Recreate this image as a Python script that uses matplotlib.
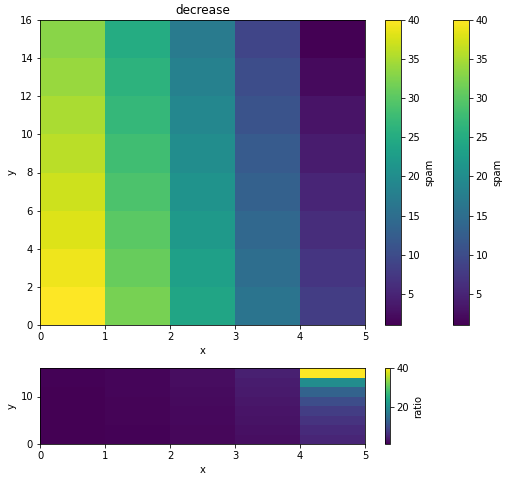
import numpy as np
import matplotlib
matplotlib.use("Agg")
import matplotlib.pyplot as plt

# x edges, y edges
x_edges = [0, 1, 2, 3, 4, 5]
y_edges = [0, 2, 4, 6, 8, 10, 12, 14, 16]

# spam values per column (bottom to top)
col0 = [40, 39, 38, 37, 36, 35, 34, 33]
col1 = [32, 31, 30, 29, 28, 27, 26, 25]
col2 = [24, 23, 22, 21, 20, 19, 18, 17]
col3 = [16, 15, 14, 13, 12, 11, 10, 9]
col4 = [8, 7, 6, 5, 4, 3, 2, 1]

# ratio values per column (bottom to top)
ratio0 = [1.00, 1.03, 1.05, 1.08, 1.11, 1.14, 1.18, 1.21]
ratio1 = [1.25, 1.29, 1.33, 1.38, 1.43, 1.48, 1.54, 1.60]
ratio2 = [1.67, 1.74, 1.82, 1.90, 2.00, 2.11, 2.22, 2.35]
ratio3 = [2.50, 2.67, 2.86, 3.08, 3.33, 3.64, 4.00, 4.44]
ratio4 = [5.00, 5.71, 6.67, 8.00, 10.00, 13.33, 20.00, 40.00]

spam = np.array([col0, col1, col2, col3, col4]).T
ratio = np.array([ratio0, ratio1, ratio2, ratio3, ratio4]).T

W, H = 512, 480
fig = plt.figure(figsize=(W / 72, H / 72), dpi=72)

def rect(l, t, r, b):
    return [l / W, 1 - b / H, (r - l) / W, (b - t) / H]

ax1 = fig.add_axes(rect(40, 20, 365, 325))
cax1 = fig.add_axes(rect(385, 20, 400.5, 325))
cax2 = fig.add_axes(rect(453, 20, 468.5, 325))
ax2 = fig.add_axes(rect(40, 368, 365, 444))
cax3 = fig.add_axes(rect(385, 368, 389.5, 444))

m1 = ax1.pcolormesh(x_edges, y_edges, spam, cmap="viridis", vmin=1, vmax=40)
ax1.set_title("decrease")
ax1.set_xlabel("x")
ax1.set_ylabel("y")
cb1 = fig.colorbar(m1, cax=cax1)
cb1.set_label("spam")
cb2 = fig.colorbar(m1, cax=cax2)
cb2.set_label("spam")

m2 = ax2.pcolormesh(x_edges, y_edges, ratio, cmap="viridis", vmin=1, vmax=40)
ax2.set_xlabel("x")
ax2.set_ylabel("y")
cb3 = fig.colorbar(m2, cax=cax3)
cb3.set_label("ratio")

fig.savefig("out.png", dpi=72)
